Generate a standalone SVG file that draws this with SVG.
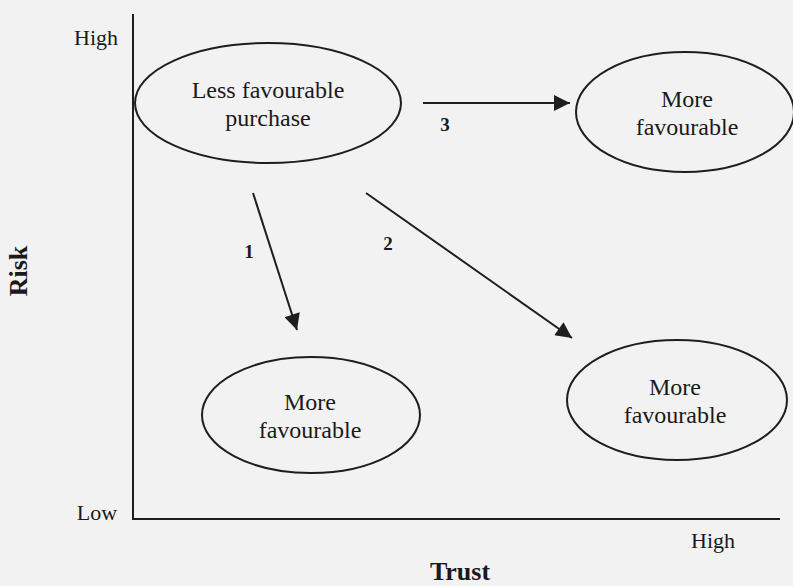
<svg xmlns="http://www.w3.org/2000/svg" width="793" height="586" viewBox="0 0 793 586">
<style>
.bg{fill:#f2f2f2}
.ax{stroke:#1e1e1e;stroke-width:2;fill:none}
.node ellipse{fill:none;stroke:#1e1e1e;stroke-width:2}
.t{font-family:"Liberation Serif","Times New Roman",serif;font-size:24px;fill:#1a1a1a;text-anchor:middle}
.lab{font-family:"Liberation Serif","Times New Roman",serif;font-size:22px;fill:#1a1a1a}
.num{font-family:"Liberation Serif","Times New Roman",serif;font-size:19px;font-weight:bold;fill:#1a1a1a;text-anchor:middle}
.title{font-family:"Liberation Serif","Times New Roman",serif;font-size:26px;font-weight:bold;fill:#1a1a1a;text-anchor:middle}
.conn line{stroke:#1e1e1e;stroke-width:2;marker-end:url(#ah)}
</style>
<defs>
<marker id="ah" viewBox="0 0 10 10" refX="10" refY="5" markerWidth="10" markerHeight="8" markerUnits="strokeWidth" orient="auto">
<path d="M0,0 L10,5 L0,10 z" fill="#1e1e1e"/>
</marker>
</defs>
<rect class="bg" x="0" y="0" width="793" height="586"/>
<g id="axes">
<path class="ax" d="M133,14 L133,519 L780,519"/>
<text class="lab" x="96" y="45" text-anchor="middle">High</text>
<text class="lab" x="97" y="520" text-anchor="middle">Low</text>
<text class="lab" x="713" y="548" text-anchor="middle">High</text>
<text class="title" x="460" y="580">Trust</text>
<text class="title" transform="translate(27,271) rotate(-90)">Risk</text>
</g>
<g id="n-less" class="node">
<ellipse cx="268" cy="103" rx="133" ry="60"/>
<text class="t" x="268" y="98">Less favourable</text>
<text class="t" x="268" y="126">purchase</text>
</g>
<g id="n-topright" class="node">
<ellipse cx="685" cy="112" rx="109" ry="60"/>
<text class="t" x="687" y="107">More</text>
<text class="t" x="687" y="135">favourable</text>
</g>
<g id="n-bottomleft" class="node">
<ellipse cx="311" cy="415" rx="109" ry="58"/>
<text class="t" x="310" y="410">More</text>
<text class="t" x="310" y="438">favourable</text>
</g>
<g id="n-bottomright" class="node">
<ellipse cx="677" cy="400" rx="110" ry="60"/>
<text class="t" x="675" y="395">More</text>
<text class="t" x="675" y="423">favourable</text>
</g>
<g id="connectors" class="conn">
<line x1="423" y1="103" x2="570" y2="103"/>
<line x1="253" y1="193" x2="297" y2="330"/>
<line x1="366" y1="193" x2="572" y2="338"/>
</g>
<g id="labels">
<text class="num" x="445" y="131">3</text>
<text class="num" x="249" y="258">1</text>
<text class="num" x="388" y="250">2</text>
</g>
</svg>
